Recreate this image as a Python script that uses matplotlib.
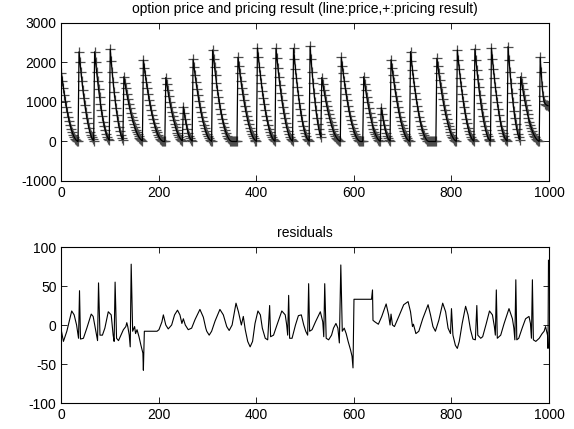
import numpy as np
import matplotlib
matplotlib.use("Agg")
import matplotlib.pyplot as plt

# ── option price, one value every 2 days (one line per contract segment) ──
price = [
    1730, 1538, 1357, 1188, 1030, 883, 747, 623, 510, 408, 318, 239, 171, 114, 69, 35, 13, 2,
    2270, 2003, 1753, 1520, 1303, 1103, 919, 752, 602, 469, 352, 252, 169, 102, 52, 19,
    2270, 2011, 1767, 1540, 1327, 1131, 950, 785, 636, 503, 385, 283, 196, 126, 71, 31,
    2340, 2038, 1758, 1498, 1258, 1040, 842, 666, 510, 374, 260, 166, 94, 42,
    1640, 1488, 1342, 1205, 1075, 952, 837, 729, 628, 535, 450, 372, 301, 238, 182, 134, 93, 60, 33, 15,
    2063, 1871, 1689, 1516, 1352, 1198, 1053, 917, 791, 674, 566, 468, 379, 299, 229, 168, 117, 75, 42, 19, 5, 0, 0,
    1620, 1454, 1297, 1149, 1010, 880, 758, 646, 543, 449, 363, 287, 220, 162, 112, 72, 40, 18,
    880, 713, 563, 431, 317, 220, 141, 79, 35, 9,
    2080, 1877, 1685, 1503, 1331, 1170, 1019, 879, 749, 629, 520, 421, 333, 255, 187, 130, 83, 47, 21, 5,
    2316, 2090, 1876, 1673, 1482, 1303, 1135, 979, 834, 701, 579, 469, 371, 284, 208, 145, 93, 52, 23, 6, 0, 0, 0, 0, 0, 0,
    2130, 1922, 1725, 1539, 1363, 1198, 1044, 900, 767, 644, 533, 431, 341, 261, 192, 133, 85, 48, 21, 5,
    2370, 2127, 1897, 1681, 1477, 1287, 1109, 945, 794, 656, 532, 420, 322, 236, 164, 105, 59, 26, 7,
    2358, 2103, 1863, 1636, 1427, 1230, 1048, 881, 728, 590, 466, 357, 262, 182, 116, 66, 29, 7,
    2358, 2089, 1836, 1599, 1379, 1175, 987, 816, 661, 522, 400, 294, 204, 131, 73, 33, 8,
    2410, 2078, 1771, 1488, 1230, 996, 787, 603, 443, 308, 197, 111,
    1620, 1462, 1312, 1170, 1037, 911, 794, 684, 583, 490, 405, 328, 259, 198, 146, 101, 65, 36, 16, 4,
    2130, 1922, 1725, 1539, 1363, 1198, 1044, 900, 767, 644, 533, 431, 341, 261, 192, 133, 85, 48, 21, 5, 0, 0, 0,
    1640, 1463, 1296, 1138, 992, 855, 729, 613, 506, 410, 324, 248, 182, 127, 81, 46, 20, 5,
    860, 697, 550, 421, 310, 215, 138, 77, 34, 9,
    2070, 1868, 1677, 1496, 1325, 1164, 1014, 875, 745, 626, 518, 419, 331, 254, 186, 129, 83, 47, 21, 5,
    2274, 2041, 1821, 1613, 1417, 1235, 1064, 907, 762, 630, 510, 403, 309, 227, 158, 101, 57, 25, 6, 0, 0, 0, 0, 0, 0, 0, 0,
    2106, 1910, 1724, 1547, 1380, 1223, 1074, 936, 807, 688, 578, 478, 387, 306, 234, 172, 119, 76, 43, 19, 5,
    2316, 2066, 1830, 1607, 1401, 1208, 1029, 865, 715, 579, 457, 350, 257, 179, 114, 64, 28, 7,
    2340, 2073, 1822, 1587, 1368, 1166, 980, 810, 656, 518, 397, 292, 202, 130, 73, 32, 8,
    2365, 2095, 1841, 1604, 1383, 1178, 990, 818, 663, 524, 401, 295, 205, 131, 74, 33, 8,
    2400, 2069, 1763, 1482, 1224, 992, 784, 600, 441, 306, 196, 110, 49,
    1640, 1480, 1328, 1185, 1050, 923, 804, 693, 590, 496, 410, 332, 262, 201, 148, 103, 66, 37, 16, 4,
    2130, 1750, 1400, 1150, 1020, 960, 930, 915, 905,
]
days = np.arange(len(price)) * 2

# ── residuals (day, value) ──
res_day = [
    0, 4, 11, 21, 26, 31, 35, 37, 39, 45, 52, 61, 65, 72, 74, 76, 79, 84, 89, 96,
    102, 106, 108, 110, 113, 117, 122, 127, 132, 134, 136, 139, 141, 143, 146, 150,
    152, 155, 159, 163, 167, 168, 170, 196, 200, 206, 209, 214, 219, 226, 232, 238,
    243, 247, 250, 254, 260, 267, 274, 284, 291, 296, 298, 303, 308, 315, 325, 332,
    339, 344, 350, 358, 363, 369, 373, 377, 382, 387, 392, 397, 403, 408, 412, 418,
    423, 427, 429, 435, 442, 452, 459, 462, 464, 466, 468, 473, 480, 486, 492, 497,
    501, 505, 507, 509, 514, 521, 531, 536, 538, 540, 543, 548, 554, 558, 563, 567,
    570, 573, 576, 580, 584, 588, 593, 596, 598, 600, 636, 638, 639, 643, 650, 657,
    666, 671, 674, 676, 679, 683, 692, 702, 711, 716, 720, 722, 727, 733, 741, 752,
    757, 762, 767, 774, 782, 788, 793, 798, 800, 803, 808, 812, 816, 822, 829, 834,
    839, 844, 849, 852, 854, 860, 864, 871, 878, 884, 888, 890, 892, 894, 901, 908,
    918, 925, 928, 930, 932, 934, 938, 945, 952, 959, 962, 964, 966, 968, 973, 980,
    986, 990, 993, 997, 998, 999,
]
res_val = [
    -8, -21, -8, 18, 13, 0, -17, 44, -18, -17, -4, 14, 11, -13, -20, 54, -13, -13, -4, 17,
    13, -13, -21, 55, -17, -20, -13, -6, -2, 3, -2, -13, -28, 78, -8, -2,
    -11, -6, -15, -26, -36, -58, -8, -8, -6, 4, 13, 0, -5, 0, 13, 19,
    13, 2, 8, 0, -6, -4, 7, 20, 10, -4, -8, -13, -8, 5, 20, 13,
    -2, -7, 0, 28, 17, 0, 11, -6, -21, -28, -21, 2, 18, 13, -4, -17,
    -19, 25, -15, -13, 0, 18, 13, 0, -13, 38, -17, -17, 0, 12, 13, 0,
    -8, -13, 53, -8, -6, 4, 17, 4, -15, 53, -17, -19, -13, -4, 2, -4,
    -23, 77, -8, -4, -11, -21, -32, -40, -55, 33, 33, 45, 6, 4, 1, 11,
    27, 13, 0, 14, 0, -2, 11, 26, 30, 17, -2, 1, -11, -8, 8, 26,
    13, -2, -8, 6, 28, 17, -4, -11, 21, -13, -26, -30, -21, 2, 24, 13,
    -6, -18, -19, 25, -13, -17, -15, 1, 18, 13, -2, -13, 45, -17, -13, 2,
    21, 8, -4, -19, 58, -19, -17, -4, 8, 11, 2, -17, 58, -19, -21, -17,
    -11, -8, -2, -13, -30, 83,
]

plt.rcParams.update({
    'font.family': 'Liberation Sans',
    'font.size': 10,
    'axes.linewidth': 0.8,
    'axes.unicode_minus': False,
    'xtick.direction': 'in',
    'ytick.direction': 'in',
    'xtick.top': True,
    'ytick.right': True,
    'xtick.major.size': 4,
    'ytick.major.size': 4,
    'xtick.major.width': 0.6,
    'ytick.major.width': 0.6,
})

fig = plt.figure(figsize=(5.74, 4.29), dpi=100)
ax1 = fig.add_axes([0.1071, 0.5781, 0.8493, 0.3683])
ax2 = fig.add_axes([0.1071, 0.0606, 0.8493, 0.3636])

# ── top: price line with pricing result markers ──
ax1.plot(days, price, '+', color='0.3', ms=7.5, mew=0.9, zorder=2)
ax1.plot(days, price, '-', color='k', lw=0.9, zorder=3)
ax1.set_xlim(0, 1000)
ax1.set_ylim(-1000, 3000)
ax1.set_xticks(np.arange(0, 1001, 200))
ax1.set_yticks(np.arange(-1000, 3001, 1000))
ax1.set_title('option price and pricing result (line:price,+:pricing result)',
              fontsize=10, pad=7)

# ── bottom: residuals ──
ax2.plot(res_day, res_val, '-', color='k', lw=0.8)
ax2.set_xlim(0, 1000)
ax2.set_ylim(-100, 100)
ax2.set_xticks(np.arange(0, 1001, 200))
ax2.set_yticks(np.arange(-100, 101, 50))
ax2.set_title('residuals', fontsize=10, pad=7)

fig.savefig('out.png', dpi=100)
